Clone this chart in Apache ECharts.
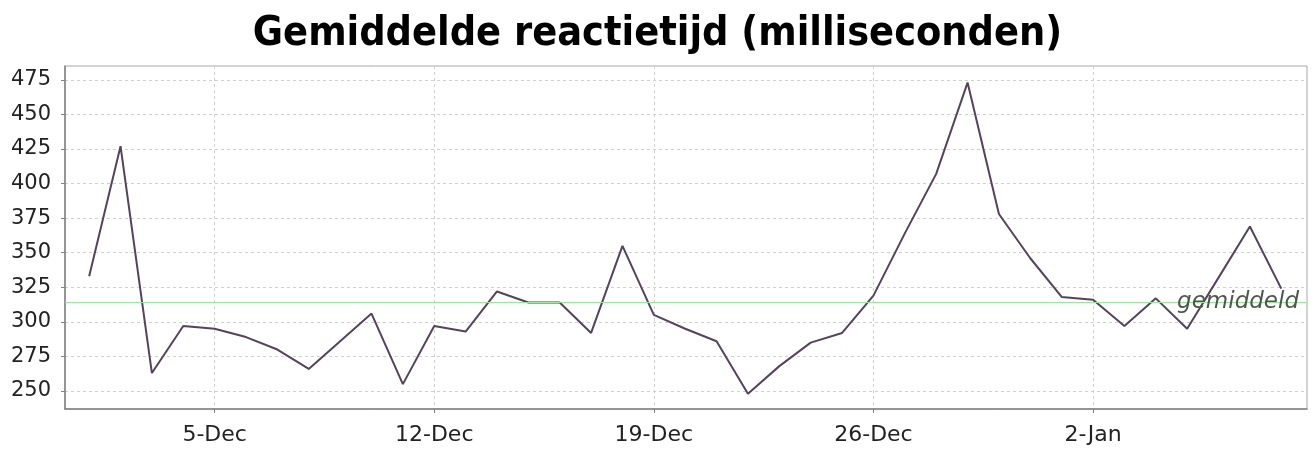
<!DOCTYPE html>
<html>
<head>
<meta charset="utf-8">
<script src="https://cdn.jsdelivr.net/npm/echarts@6/dist/echarts.min.js"></script>
<style>
  html, body { margin: 0; padding: 0; background: #ffffff; }
  #chart { width: 1315px; height: 451px; }
</style>
</head>
<body>
<div id="chart"></div>
<script>
// Daily mean response times (ms), 1 Dec to 8 Jan
const dates = [
  '2008-12-01','2008-12-02','2008-12-03','2008-12-04','2008-12-05','2008-12-06','2008-12-07',
  '2008-12-08','2008-12-09','2008-12-10','2008-12-11','2008-12-12','2008-12-13','2008-12-14',
  '2008-12-15','2008-12-16','2008-12-17','2008-12-18','2008-12-19','2008-12-20','2008-12-21',
  '2008-12-22','2008-12-23','2008-12-24','2008-12-25','2008-12-26','2008-12-27','2008-12-28',
  '2008-12-29','2008-12-30','2008-12-31','2009-01-01','2009-01-02','2009-01-03','2009-01-04',
  '2009-01-05','2009-01-06','2009-01-07','2009-01-08'
];
const responseMs = [
  333, 427, 263, 297, 295, 289, 280,
  266, 286, 306, 255, 297, 293, 322,
  314, 314, 292, 355, 305, 295, 286,
  248, 268, 285, 292, 319, 364, 407,
  473, 378, 346, 318, 316, 297, 317,
  295, 332, 369, 324
];
const averageMs = 314;
const averageLabel = 'gemiddeld';
const titleText = 'Gemiddelde reactietijd (milliseconden)';

// Axis ticks
const xTickDates = ['2008-12-05', '2008-12-12', '2008-12-19', '2008-12-26', '2009-01-02'];
const yTicks = [250, 275, 300, 325, 350, 375, 400, 425, 450, 475];
const monthNames = ['Jan','Feb','Mar','Apr','May','Jun','Jul','Aug','Sep','Oct','Nov','Dec'];

// x is measured in days since 1 Dec
const DAY = 24 * 3600 * 1000;
const origin = Date.UTC(2008, 11, 1);
const dayOf = d => (new Date(d + 'T00:00:00Z').getTime() - origin) / DAY;
const points = dates.map((d, i) => [dayOf(d), responseMs[i]]);
const xTicks = xTickDates.map(dayOf);
const xMin = dayOf(dates[0]) - 0.77;
const xMax = dayOf(dates[dates.length - 1]) + 0.82;
const dayLabel = v => {
  const d = new Date(origin + Math.round(v) * DAY);
  return d.getUTCDate() + '-' + monthNames[d.getUTCMonth()];
};

const chart = echarts.init(document.getElementById('chart'), null, { renderer: 'canvas' });

const gridLine = { show: true, lineStyle: { color: '#d0d0d0', type: [3, 3], width: 1 } };

chart.setOption({
  animation: false,
  backgroundColor: '#ffffff',
  title: {
    text: titleText,
    left: 'center',
    top: 9,
    textStyle: {
      fontFamily: 'DejaVu Sans Condensed, DejaVu Sans',
      fontWeight: 'bold',
      fontSize: 41,
      color: '#000000'
    }
  },
  grid: {
    left: 65, right: 8, top: 66, bottom: 42,
    show: true,
    borderColor: '#a8a8a8',
    borderWidth: 1,
    backgroundColor: '#ffffff'
  },
  xAxis: {
    type: 'value',
    min: xMin,
    max: xMax,
    axisLine: { show: true, onZero: false, lineStyle: { color: '#808080', width: 1.5 } },
    axisTick: {
      show: true, length: 4, inside: false,
      lineStyle: { color: '#808080' },
      customValues: xTicks
    },
    axisLabel: {
      customValues: xTicks,
      formatter: dayLabel,
      fontFamily: 'DejaVu Sans',
      fontSize: 22,
      color: '#222222',
      margin: 15
    },
    splitLine: gridLine
  },
  yAxis: {
    type: 'value',
    min: 237,
    max: 485,
    axisLine: { show: true, onZero: false, lineStyle: { color: '#808080', width: 1.5 } },
    axisTick: {
      show: true, length: 4,
      lineStyle: { color: '#808080' },
      customValues: yTicks
    },
    axisLabel: {
      customValues: yTicks,
      fontFamily: 'DejaVu Sans',
      fontSize: 21,
      color: '#222222',
      margin: 14
    },
    splitLine: gridLine
  },
  series: [{
    type: 'line',
    data: points,
    symbol: 'none',
    lineStyle: { color: '#55435b', width: 2 },
    markLine: {
      silent: true,
      symbol: 'none',
      lineStyle: { color: '#9ae69a', type: 'solid', width: 1.2 },
      label: {
        show: true,
        position: 'insideEnd',
        formatter: averageLabel,
        fontFamily: 'DejaVu Sans',
        fontStyle: 'italic',
        fontSize: 23,
        color: '#4a5a4a',
        distance: 8
      },
      data: [{ yAxis: averageMs }]
    }
  }]
});
</script>
</body>
</html>
